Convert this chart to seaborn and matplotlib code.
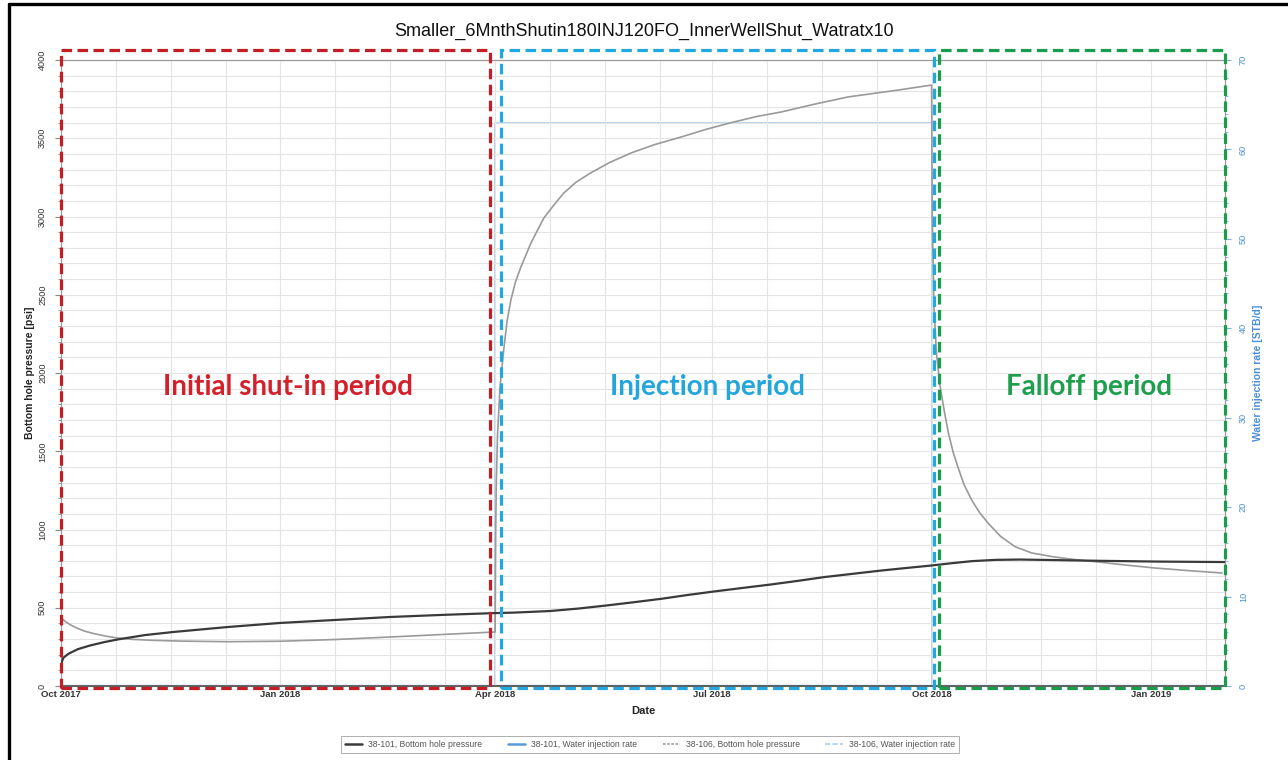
import matplotlib
matplotlib.use("Agg")
import matplotlib.pyplot as plt
import matplotlib.dates as mdates
import matplotlib.transforms as mtransforms
from matplotlib.patches import Rectangle
from matplotlib.lines import Line2D
import numpy as np
import pandas as pd
import seaborn as sns

# Simulation start; all series are given as elapsed days from this date
start_date = "2017-10-01"

# ---- well 38-101 bottom hole pressure [psi] ----
bhp_101_days = [
    0, 0.25, 1, 3, 7, 12, 18, 24, 35, 47, 70, 92, 115, 138, 161, 182,
    190, 205, 217, 229, 240, 251.6, 262, 273.8, 286, 297.8, 309, 320, 332, 344, 355, 365,
    373, 382, 392, 402, 415, 435, 460, 488,
]
bhp_101_psi = [
    90, 150, 180, 205, 235, 258, 280, 298, 325, 345, 377, 403, 422, 441, 455, 466,
    469, 479, 495, 515, 535, 557, 580, 604, 627, 649, 672, 696, 717, 738, 755, 770,
    784, 798, 806, 808, 805, 800, 795, 792,
]

# ---- well 38-106 bottom hole pressure [psi] ----
bhp_106_days = [
    # initial shut-in
    0, 0.5, 2, 4, 7, 10, 14, 19, 24, 30, 38, 50, 70, 92, 115, 138, 161, 182,
    # injection
    182.1, 182.25, 182.5, 183, 184, 185.6, 187, 188.6, 190.5, 192.8, 197, 202.4, 207,
    210.8, 216, 222, 230, 239, 249, 260, 270, 281, 292, 302, 316, 330, 351, 365,
    # falloff
    365.25, 366, 367, 368, 368.5, 369.5, 370.5, 372, 374, 376, 378.5, 381.8, 385,
    389, 394, 400, 407, 416.6, 425, 435, 445, 458.6, 472, 486.8,
]
bhp_106_psi = [
    445, 430, 410, 390, 368, 350, 334, 318, 306, 298, 292, 287, 283, 286, 297, 313, 330, 345,
    600, 1000, 1300, 1600, 1900, 2147, 2330, 2466, 2580, 2677, 2830, 2990, 3080,
    3150, 3220, 3278, 3345, 3406, 3460, 3508, 3555, 3600, 3640, 3668, 3718, 3764, 3808, 3840,
    3000, 2420, 2130, 1990, 1920, 1830, 1740, 1620, 1495, 1400, 1290, 1188, 1110,
    1035, 955, 890, 850, 824, 808, 792, 775, 754, 738, 722,
]

# ---- water injection schedules [STB/d] (rate holds until the next change) ----
rate_101_days = [0, 488]
rate_101_stbd = [0, 0]
rate_106_days = [0, 182, 365, 488]
rate_106_stbd = [0, 63, 0, 0]

x_tick_dates = ["2017-10-01", "2018-01-01", "2018-04-01", "2018-07-01", "2018-10-01", "2019-01-01"]
x_tick_labels = ["Oct 2017", "Jan 2018", "Apr 2018", "Jul 2018", "Oct 2018", "Jan 2019"]

# name, frame start, frame end, label centre, frame colour, text colour
periods = [
    ("Initial shut-in period", "2017-10-01", "2018-03-29 20:00", "2018-01-04",
     "#c41e24", "#d3202a"),
    ("Injection period", "2018-04-03 10:00", "2018-10-01 19:00", "2018-06-29",
     "#22a7de", "#23a6db"),
    ("Falloff period", "2018-10-04 07:00", "2019-02-01", "2018-12-06",
     "#1a9c4c", "#1f9e4e"),
]

title_text = "Smaller_6MnthShutin180INJ120FO_InnerWellShut_Watratx10"


def to_dates(days):
    return pd.Timestamp(start_date) + pd.to_timedelta(np.asarray(days, dtype=float), unit="D")


sns.set_theme(style="white")
plt.rcParams["font.family"] = ["Liberation Sans", "DejaVu Sans"]

W, H = 1288, 760
fig = plt.figure(figsize=(W / 100, H / 100), dpi=100)
ax = fig.add_axes([61 / W, (H - 686) / H, 1164 / W, 626 / H])
ax2 = ax.twinx()

df101 = pd.DataFrame({"date": to_dates(bhp_101_days), "psi": bhp_101_psi})
df106 = pd.DataFrame({"date": to_dates(bhp_106_days), "psi": bhp_106_psi})
r101 = pd.DataFrame({"date": to_dates(rate_101_days), "rate": rate_101_stbd})
r106 = pd.DataFrame({"date": to_dates(rate_106_days), "rate": rate_106_stbd})

c101_bhp = "#3a3a3a"
c106_bhp = "#9a9a9a"
c101_rate = "#5b9bd5"
c106_rate = "#a9cdee"

sns.lineplot(data=r101, x="date", y="rate", ax=ax2, color=c101_rate, lw=1.6,
             drawstyle="steps-post", estimator=None, sort=False, zorder=2)
sns.lineplot(data=r106, x="date", y="rate", ax=ax2, color=c106_rate, lw=1.2,
             drawstyle="steps-post", estimator=None, sort=False, zorder=2)
sns.lineplot(data=df106, x="date", y="psi", ax=ax, color=c106_bhp, lw=1.2,
             estimator=None, sort=False, zorder=3)
sns.lineplot(data=df101, x="date", y="psi", ax=ax, color=c101_bhp, lw=1.6,
             estimator=None, sort=False, zorder=4)

ax.set_zorder(ax2.get_zorder() + 1)
ax.patch.set_visible(False)

x0 = pd.Timestamp("2017-10-01")
x1 = pd.Timestamp("2019-02-01")
ax.set_xlim(x0, x1)
ax.set_ylim(0, 4000)
ax2.set_ylim(0, 70)

# date ticks: quarters labelled, four grid steps per quarter
major = [mdates.date2num(pd.Timestamp(d)) for d in x_tick_dates]
step = (major[1] - major[0]) / 4.0
minor = []
for m in major:
    for k in range(1, 4):
        v = m + k * step
        if v < mdates.date2num(x1):
            minor.append(v)
ax.set_xticks(major)
ax.set_xticklabels(x_tick_labels)
ax.set_xticks(minor, minor=True)

ax.set_yticks(np.arange(0, 4001, 500))
ax.set_yticks(np.arange(0, 4001, 100), minor=True)
ax2.set_yticks(np.arange(0, 71, 10))
ax2.set_yticks(np.arange(0, 71, 2), minor=True)

ax.grid(True, which="both", axis="both", color="#e4e4e4", lw=0.8)
ax2.grid(False)

for lab in ax.get_xticklabels():
    lab.set_fontweight("bold")
ax.tick_params(axis="x", which="major", labelsize=6.8, colors="#333333", length=0, pad=3)
ax.tick_params(axis="x", which="minor", length=0)
ax.tick_params(axis="y", which="major", labelsize=6.6, labelcolor="#333333", color="#888888",
               length=4, width=0.8, pad=6, left=True, labelrotation=90)
ax.tick_params(axis="y", which="minor", color="#888888", length=2, width=0.6, left=True)
for lab in ax.get_yticklabels():
    lab.set_va("center")
ax2.tick_params(axis="y", which="major", labelsize=6.6, labelcolor="#4a8fd8", color="#7fb0e3",
                length=4, width=0.8, pad=6, right=True, labelrotation=90)
ax2.tick_params(axis="y", which="minor", color="#7fb0e3", length=2, width=0.6, right=True)
for lab in ax2.get_yticklabels():
    lab.set_va("center")

for a in (ax, ax2):
    for s in a.spines.values():
        s.set_color("#9a9a9a")
        s.set_linewidth(0.8)
ax.spines["bottom"].set_color("#555555")
ax.spines["bottom"].set_linewidth(1.2)

ax.set_xlabel("Date", fontsize=8, fontweight="bold", color="#222222", labelpad=5)
ax.set_ylabel("Bottom hole pressure [psi]", fontsize=7.5, fontweight="bold", color="#222222", labelpad=2)
ax2.set_ylabel("Water injection rate [STB/d]", fontsize=7.5, fontweight="bold", color="#4a8fd8", labelpad=4)

fig.text(0.5, 1 - 31 / H, title_text, ha="center", va="center", fontsize=13, color="#111111")

# period frames and labels
trans = mtransforms.blended_transform_factory(ax.transData, ax.transAxes)
for name, start, end, centre, edge, tcol in periods:
    s = mdates.date2num(pd.Timestamp(start))
    e = mdates.date2num(pd.Timestamp(end))
    rect = Rectangle((s, -0.003), e - s, 1.019, transform=trans, fill=False,
                     edgecolor=edge, lw=2.3, linestyle=(0, (3.3, 1.7)),
                     clip_on=False, zorder=10)
    ax.add_patch(rect)
    ax.text(mdates.date2num(pd.Timestamp(centre)), 0.478, name, transform=trans,
            ha="center", va="center", fontsize=20, fontweight="bold", color=tcol,
            family=["Lato", "DejaVu Sans"], zorder=11)

# legend
handles = [
    Line2D([], [], color=c101_bhp, lw=1.8),
    Line2D([], [], color=c101_rate, lw=1.8),
    Line2D([], [], color=c106_bhp, lw=1.2, linestyle=(0, (1.5, 1))),
    Line2D([], [], color=c106_rate, lw=1.2, linestyle=(0, (3, 1.5))),
]
labels = ["38-101, Bottom hole pressure", "38-101, Water injection rate",
          "38-106, Bottom hole pressure", "38-106, Water injection rate"]
leg = fig.legend(handles, labels, loc="center", bbox_to_anchor=(650 / W, 1 - 744.5 / H),
                 ncol=4, fontsize=6.2, frameon=True, fancybox=False, handlelength=2.0,
                 columnspacing=2.95, borderpad=0.45, handletextpad=0.7)
leg.get_frame().set_edgecolor("#8a8a8a")
leg.get_frame().set_linewidth(0.6)
for t in leg.get_texts():
    t.set_color("#555555")

# outer frame lines on the left and top edges
fig.add_artist(Line2D([8.5 / W, 8.5 / W], [0, 1 - 4 / H], color="black", lw=2.4, transform=fig.transFigure))
fig.add_artist(Line2D([8.5 / W, 1], [1 - 4 / H, 1 - 4 / H], color="black", lw=2.4, transform=fig.transFigure))

fig.savefig("out.png", dpi=100, facecolor="white")
